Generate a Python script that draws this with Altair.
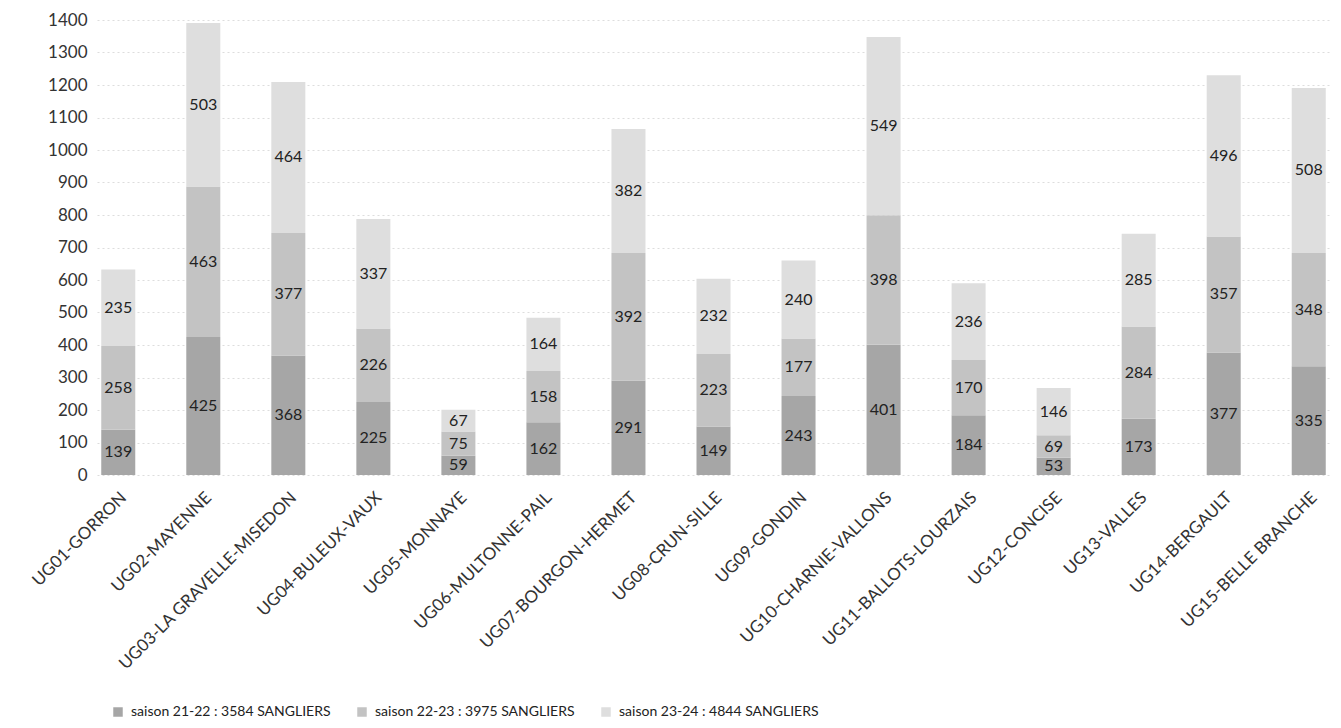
import altair as alt
import pandas as pd

units = ["UG01-GORRON", "UG02-MAYENNE", "UG03-LA GRAVELLE-MISEDON", "UG04-BULEUX-VAUX",
         "UG05-MONNAYE", "UG06-MULTONNE-PAIL", "UG07-BOURGON-HERMET", "UG08-CRUN-SILLE",
         "UG09-GONDIN", "UG10-CHARNIE-VALLONS", "UG11-BALLOTS-LOURZAIS", "UG12-CONCISE",
         "UG13-VALLES", "UG14-BERGAULT", "UG15-BELLE BRANCHE"]
s2122 = [139, 425, 368, 225, 59, 162, 291, 149, 243, 401, 184, 53, 173, 377, 335]
s2223 = [258, 463, 377, 226, 75, 158, 392, 223, 177, 398, 170, 69, 284, 357, 348]
s2324 = [235, 503, 464, 337, 67, 164, 382, 232, 240, 549, 236, 146, 285, 496, 508]
series_names = ["saison 21-22 : 3584 SANGLIERS",
                "saison 22-23 : 3975 SANGLIERS",
                "saison 23-24 : 4844 SANGLIERS"]
colors = ["#a6a6a6", "#c3c3c3", "#dedede"]
y_ticks = list(range(0, 1401, 100))

rows = []
for i, u in enumerate(units):
    for k, (name, vals) in enumerate(zip(series_names, [s2122, s2223, s2324])):
        rows.append({"unit": u, "serie": name, "order": k, "value": vals[i]})
df = pd.DataFrame(rows)

FONT = "Lato"

base = alt.Chart(df).transform_stack(
    stack="value", groupby=["unit"], as_=["y0", "y1"],
    sort=[alt.SortField("order", order="ascending")]
).transform_calculate(mid="(datum.y0 + datum.y1) / 2")

x_axis = alt.Axis(labelAngle=-45, labelFont=FONT, labelFontSize=17,
                  labelColor="#333333", labelPadding=14, ticks=False,
                  domain=False, labelLimit=400)
x_scale = alt.Scale(paddingInner=0.6, paddingOuter=0.05)

y_axis = alt.Axis(values=y_ticks, tickCount=15, format="d", labelOverlap=False,
                  labelFont=FONT, labelFontSize=17,
                  labelColor="#333333", labelPadding=10, ticks=False,
                  domain=False, grid=True, gridColor="#dddddd",
                  gridDash=[2, 3], gridWidth=1)
y_scale = alt.Scale(domain=[0, 1400], nice=False)

bars = base.mark_bar().encode(
    x=alt.X("unit:N", sort=units, title=None, scale=x_scale, axis=x_axis),
    y=alt.Y("y0:Q", title=None, scale=y_scale, axis=y_axis),
    y2="y1:Q",
    color=alt.Color("serie:N", scale=alt.Scale(domain=series_names, range=colors),
                    legend=alt.Legend(title=None, orient="none", legendX=14, legendY=685,
                                      direction="horizontal", columns=3,
                                      symbolType="square", symbolSize=90,
                                      symbolStrokeWidth=0, labelFont=FONT,
                                      labelFontSize=14, labelColor="#222222",
                                      labelLimit=400, labelOffset=6,
                                      columnPadding=24)),
    order=alt.Order("order:Q"),
)

labels = base.mark_text(font=FONT, fontSize=16, color="#222222").encode(
    x=alt.X("unit:N", sort=units, title=None, scale=x_scale, axis=x_axis),
    y=alt.Y("mid:Q", title=None, scale=y_scale, axis=y_axis),
    text=alt.Text("value:Q"),
)

chart = (bars + labels).properties(
    width=1233, height=455,
    padding={"left": 89, "top": 12, "right": 0, "bottom": 244},
    autosize=alt.AutoSizeParams(type="none"),
).configure_view(stroke=None)

chart.save("out.html", embed_options={"renderer": "svg", "actions": False})
